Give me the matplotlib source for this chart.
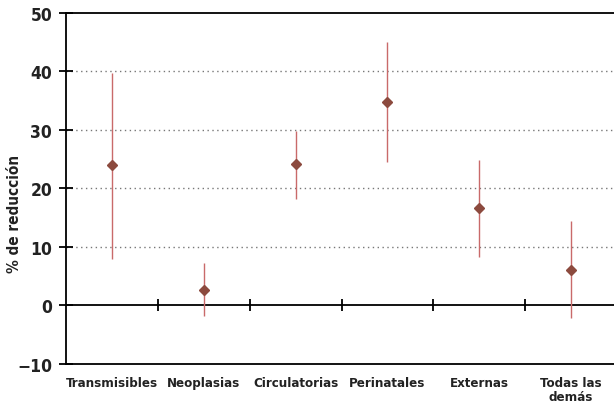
import matplotlib.pyplot as plt
import numpy as np

# Reducción estimada por grupo de causas (punto central e intervalo)
causas = ['Transmisibles', 'Neoplasias', 'Circulatorias', 'Perinatales', 'Externas', 'Todas las\ndemás']
reduccion = [24.0, 2.6, 24.1, 34.8, 16.6, 6.1]
limite_inf = [8.0, -1.8, 18.2, 24.5, 8.3, -2.2]
limite_sup = [39.8, 7.2, 29.9, 45.0, 24.9, 14.5]

plt.rcParams['font.family'] = ['DejaVu Sans']
plt.rcParams['font.stretch'] = 'condensed'
plt.rcParams['font.weight'] = 'bold'

fig = plt.figure(figsize=(6.14, 4.10), dpi=100)
ax = fig.add_axes([0.1075, 0.1098, 0.8975, 0.8561])

x = np.arange(len(causas))
ax.vlines(x, limite_inf, limite_sup, color='#c96a6a', linewidth=1.0, zorder=3)
ax.plot(x, reduccion, linestyle='none', marker='D', markersize=5.5,
        color='#8c4a3e', zorder=4)

# linea del cero con marcas entre categorias
ax.axhline(0, color='black', linewidth=1.3, zorder=2)
ax.plot(x[:-1] + 0.5, np.zeros(len(x) - 1), linestyle='none', marker='|',
        markersize=8, markeredgewidth=1.3, color='black', zorder=2)

for v in [10, 20, 30, 40]:
    ax.axhline(v, color='#777777', linewidth=1.0, linestyle=(0, (1, 2.5)), zorder=1)

ax.set_xlim(-0.5, len(causas) - 0.5)
ax.set_ylim(-10, 50)
ax.set_yticks([-10, 0, 10, 20, 30, 40, 50])
ax.set_yticklabels(['\u221210', '0', '10', '20', '30', '40', '50'])
ax.set_xticks(x)
ax.set_xticklabels(causas, fontsize=9.5, color='#222222', linespacing=1.1)
ax.tick_params(axis='x', length=0, pad=9)
ax.tick_params(axis='y', direction='inout', length=10, width=1.3,
               labelsize=12.5, pad=5, labelcolor='#222222')

ax.set_ylabel('% de reducción', fontsize=11, fontweight='bold', color='#222222')
ax.yaxis.set_label_coords(-0.08, 0.43)

ax.spines['right'].set_visible(False)
for s in ['left', 'top', 'bottom']:
    ax.spines[s].set_linewidth(1.3)

fig.savefig('out.png', dpi=100)
